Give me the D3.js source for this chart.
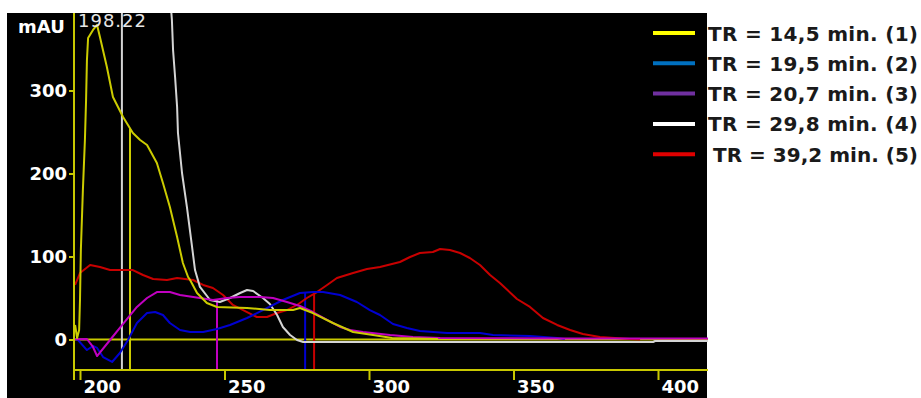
<!DOCTYPE html>
<html>
<head>
<meta charset="utf-8">
<script src="https://cdn.jsdelivr.net/npm/d3@7"></script>
<style>
    body { margin: 0; background: #fff; }
    svg { display: block; }
</style>
</head>
<body>
<svg id="chart"></svg>
<script>
// DAD spectra: [wavelength (nm), absorbance (mAU)]
const tr1 = [[198.3, 17.5], [199.0, 1.8], [199.7, 11.4], [200.0, 47.6], [200.3, 107.8], [201.0, 180], [201.7, 240.4],
    [202.1, 288.6], [202.4, 336.7], [202.8, 363.3], [204.5, 373], [205.9, 379], [206.9, 364.5], [209.3, 328.3],
    [211.4, 292.2], [214.9, 268.1], [218.3, 248.8], [220.8, 240.4], [223.2, 234.3], [226.6, 212.7], [228.7, 188.6],
    [231.1, 159.6], [233.6, 123.5], [235.6, 92.2], [237.4, 75.3], [238.1, 71.7], [240.5, 56], [243.9, 44],
    [247.4, 39.2], [257.8, 38], [265.7, 35.5], [273.7, 35.5], [276.1, 38], [280.6, 31.9], [287.5, 19.9],
    [294.5, 9], [301.4, 5.4], [308.0, 1.8], [323.9, 0.6]];
const tr2 = [[198.3, 0.6], [199.3, -0.6], [202.4, -12.7], [204.5, -7.8], [205.9, -10.2], [208.0, -21.1], [211.1, -27.1],
    [213.8, -16.3], [216.6, -0.6], [219.7, 19.9], [223.2, 31.9], [226.0, 33.1], [228.7, 29.5], [231.1, 19.9],
    [234.6, 11.4], [238.1, 9], [242.6, 9], [247.4, 12.7], [251.9, 17.5], [257.8, 25.9], [263.3, 35.5], [270.2, 47.6],
    [276.1, 56], [280.6, 57.2], [284.1, 57.2], [290.0, 53.6], [295.8, 45.2], [300.3, 35.5], [303.8, 29.5],
    [308.3, 18.7], [313.1, 13.9], [317.6, 10.2], [327.0, 7.8], [338.4, 7.8], [342.9, 5.4], [355.7, 4.2],
    [365.1, 1.8], [367.8, 0.6]];
const tr3 = [[198.3, 0.2], [202.4, 0.6], [204.5, -9], [205.9, -19.9], [210.4, -0.6], [214.9, 18.7], [219.7, 39.2],
    [223.2, 50], [226.6, 57.2], [231.1, 57.2], [234.6, 53.6], [241.5, 50], [246.0, 47.6], [250.9, 50], [255.4, 51.2],
    [262.3, 51.2], [266.8, 50], [271.6, 45.2], [276.1, 40.4], [280.6, 33.1], [285.5, 23.5], [290.0, 15.1],
    [293.4, 11.4], [297.9, 9], [307.3, 5.4], [315.2, 3], [324.6, 1.8], [366.1, 1.2], [417.3, 1.2]];
const tr4 = [[213.0, 1200], [228.0, 560], [231.8, 385], [232.2, 348.8], [232.9, 316.3], [233.6, 280.1], [233.9, 248.8],
    [235.3, 200.6], [237.0, 159.6], [238.6, 116.3], [239.8, 83.7], [241.5, 63.3], [245.0, 47.6], [248.4, 45.2],
    [251.9, 50], [255.4, 56], [257.8, 59.6], [259.9, 58.4], [263.3, 50], [265.7, 42.8], [268.2, 29.5], [270.2, 15.1],
    [272.7, 5.4], [275.1, -0.6], [277.2, -3], [398.3, -3], [399.0, -1.8], [417.3, -1.8]];
const tr5 = [[198.3, 65.7], [200.0, 80.1], [203.5, 89.8], [206.9, 87.3], [210.4, 83.7], [218.3, 83.7], [221.8, 77.7],
    [225.3, 72.9], [230.1, 71.7], [233.6, 74.1], [239.1, 71.7], [242.6, 65.7], [246.0, 62], [249.5, 53.6],
    [252.9, 41.6], [257.8, 33.1], [261.2, 27.1], [264.7, 27.1], [268.2, 31.9], [271.6, 35.5], [275.1, 41.6],
    [278.5, 50], [282.0, 57.2], [285.5, 65.7], [288.9, 74.1], [294.5, 80.1], [299.3, 84.9], [303.8, 87.3],
    [310.7, 93.4], [314.2, 99.4], [317.6, 104.2], [322.1, 105.4], [324.6, 109], [328.0, 107.8], [331.5, 104.2],
    [334.9, 98.2], [338.4, 89.8], [341.9, 77.7], [345.3, 68.1], [351.2, 48.8], [355.7, 39.2], [360.2, 25.9],
    [365.1, 17.5], [369.6, 11.4], [374.0, 6.6], [379.9, 3], [390.3, 0.6], [393.8, 0]];

const seriesNames = ["TR = 14,5 min. (1)", "TR = 19,5 min. (2)", "TR = 20,7 min. (3)", "TR = 29,8 min. (4)", "TR = 39,2 min. (5)"];
// cursor wavelength dropped to the axis for each spectrum
const markerNm = [217.3, 277.9, 247.4, 214.5, 281.0];
const xTicks = [200, 250, 300, 350, 400];
const yTicks = [0, 100, 200, 300];
const yUnit = "mAU";
const cursorLabel = "198.22";

const curveColors = ["#cccc00", "#0000d0", "#c000c0", "#d4d4d4", "#c80000"];
const legendColors = ["#ffff00", "#0070c0", "#7030a0", "#ffffff", "#e00000"];
const axisColor = "#c8c800";
const drawOrder = [4, 3, 1, 2, 0];

let seriesData = [tr1, tr2, tr3, tr4, tr5];

let svg = d3.select("#chart").attr("width", 921).attr("height", 398);
let plot = { left: 74, right: 708, top: 13, axisY: 370 };

let x = d3.scaleLinear().domain([200, 400]).range([80, 658]);
let y = d3.scaleLinear().domain([0, 300]).range([339.5, 90.5]);

svg.append("rect")
    .attr("x", 7).attr("y", 13)
    .attr("width", 700).attr("height", 385)
    .attr("fill", "#000");

svg.append("defs").append("clipPath").attr("id", "plotClip")
    .append("rect")
    .attr("x", plot.left).attr("y", plot.top)
    .attr("width", plot.right - plot.left).attr("height", plot.axisY - plot.top);

let chart = svg.append("g").attr("clip-path", "url(#plotClip)");

// zero line
chart.append("line")
    .attr("x1", plot.left).attr("x2", plot.right)
    .attr("y1", y(0)).attr("y2", y(0))
    .attr("stroke", axisColor).attr("stroke-width", 2);

let line = d3.line().x(d => x(d[0])).y(d => y(d[1]));

function valueAt(data, nm) {
    let i = d3.bisector(d => d[0]).left(data, nm);
    if (i <= 0) return data[0][1];
    if (i >= data.length) return data[data.length - 1][1];
    let a = data[i - 1], b = data[i];
    return a[1] + (b[1] - a[1]) * (nm - a[0]) / (b[0] - a[0]);
}

// drop lines
drawOrder.forEach(i => {
    let top = Math.min(y(valueAt(seriesData[i], markerNm[i])), plot.axisY);
    chart.append("line")
        .attr("x1", x(markerNm[i])).attr("x2", x(markerNm[i]))
        .attr("y1", Math.max(top, plot.top)).attr("y2", plot.axisY)
        .attr("stroke", curveColors[i]).attr("stroke-width", 2);
});

drawOrder.forEach(i => {
    chart.append("path")
        .datum(seriesData[i])
        .attr("d", line)
        .attr("fill", "none")
        .attr("stroke", curveColors[i])
        .attr("stroke-width", 2)
        .attr("stroke-linejoin", "round");
});

// axes
svg.append("line")
    .attr("x1", plot.left).attr("x2", plot.left)
    .attr("y1", plot.top).attr("y2", plot.axisY + 10)
    .attr("stroke", axisColor).attr("stroke-width", 2);
svg.append("line")
    .attr("x1", plot.left).attr("x2", plot.right)
    .attr("y1", plot.axisY).attr("y2", plot.axisY)
    .attr("stroke", axisColor).attr("stroke-width", 2);

let xAxis = d3.axisBottom(x).tickValues(xTicks).tickSize(10).tickFormat(d3.format("d"));
let axisX = svg.append("g").attr("transform", `translate(0,${plot.axisY})`).call(xAxis);
axisX.select(".domain").remove();
axisX.selectAll("line").attr("stroke", axisColor).attr("stroke-width", 2);
axisX.selectAll("text")
    .attr("x", 3).attr("y", 10)
    .attr("text-anchor", "start")
    .attr("fill", "#fff")
    .attr("font-family", "DejaVu Sans").attr("font-weight", "bold").attr("font-size", 18);

let yAxis = d3.axisLeft(y).tickValues(yTicks).tickSize(5).tickPadding(2);
let axisY = svg.append("g").attr("transform", `translate(${plot.left},0)`).call(yAxis);
axisY.select(".domain").remove();
axisY.selectAll("line").attr("stroke", axisColor).attr("stroke-width", 2);
axisY.selectAll("text")
    .attr("fill", "#fff")
    .attr("font-family", "DejaVu Sans").attr("font-weight", "bold").attr("font-size", 18);

svg.append("text")
    .attr("x", 18).attr("y", 33)
    .attr("fill", "#fff")
    .attr("font-family", "DejaVu Sans").attr("font-weight", "bold").attr("font-size", 18)
    .text(yUnit);

svg.append("g").attr("clip-path", "url(#plotClip)")
    .append("text")
    .attr("x", 78).attr("y", 27)
    .attr("fill", "#e6e6e6")
    .attr("letter-spacing", 1)
    .attr("font-family", "DejaVu Sans").attr("font-size", 18)
    .text(cursorLabel);

// legend
let legend = svg.append("g");
seriesNames.forEach((name, i) => {
    let cy = 33 + i * 30.3;
    legend.append("line")
        .attr("x1", 653).attr("x2", 695)
        .attr("y1", cy).attr("y2", cy)
        .attr("stroke", legendColors[i]).attr("stroke-width", 4);
    legend.append("text")
        .attr("x", i === 4 ? 713 : 708).attr("y", cy + 7.5)
        .attr("fill", "#1a1a1a")
        .attr("font-family", "DejaVu Sans").attr("font-weight", "bold").attr("font-size", 20)
        .attr("textLength", i === 4 ? 205 : 210).attr("lengthAdjust", "spacing")
        .text(name);
});
</script>
</body>
</html>
